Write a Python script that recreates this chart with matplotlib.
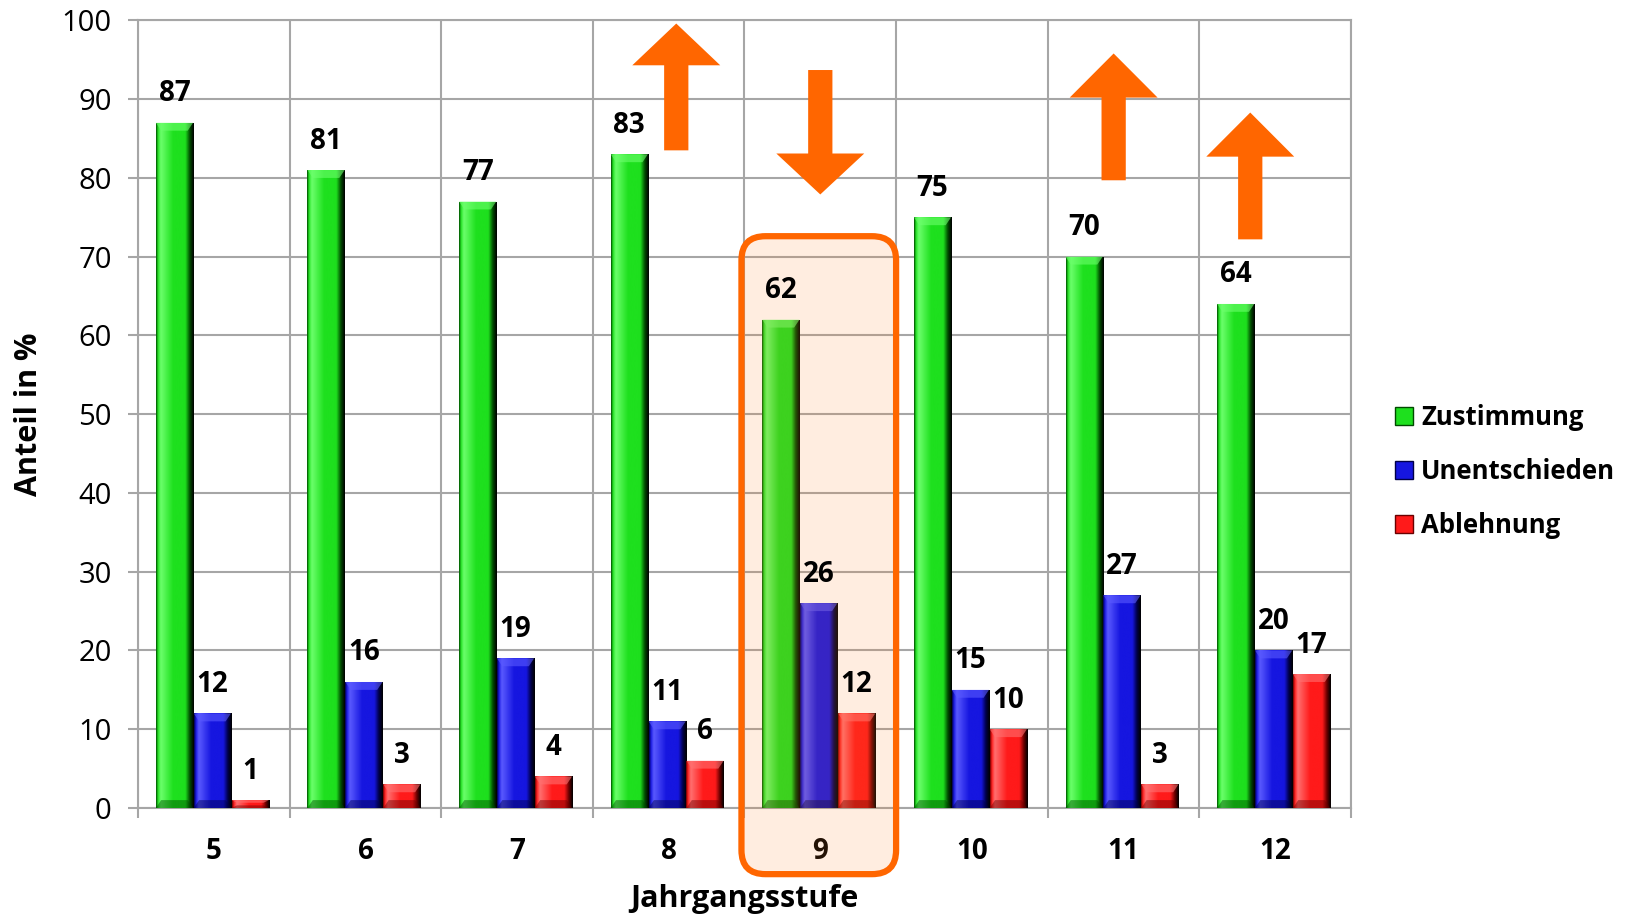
import numpy as np
import matplotlib
matplotlib.use("Agg")
import matplotlib.pyplot as plt
from matplotlib.patches import Polygon, FancyBboxPatch, Patch
from matplotlib.colors import LinearSegmentedColormap
from matplotlib.transforms import IdentityTransform

plt.rcParams['font.family'] = ['Open Sans', 'DejaVu Sans']

jahrgang = ['5', '6', '7', '8', '9', '10', '11', '12']
zustimmung = [87, 81, 77, 83, 62, 75, 70, 64]
unentschieden = [12, 16, 19, 11, 26, 15, 27, 20]
ablehnung = [1, 3, 4, 6, 12, 10, 3, 17]
serien = ['Zustimmung', 'Unentschieden', 'Ablehnung']

# base, light, dark shade for each series
farben = [('#1EE01E', '#6CFF6C', '#004A00'),
          ('#1616E0', '#5A5AFF', '#000048'),
          ('#FF1A1A', '#FF7070', '#6A0000')]

grau = '#A6A6A6'
orange = '#FF6600'

fig = plt.figure(figsize=(16.28, 9.19), dpi=100)
ax = fig.add_axes([0.0848, 0.1208, 0.745, 0.857])
ax.set_xlim(-0.5, 7.5)
ax.set_ylim(0, 100)

x = np.arange(len(jahrgang))
breite = 0.245


def bevel_bar(ax, rect, base, light, dark):
    # horizontal shading across the bar plus a lit top and shadowed bottom edge
    bx, bw, bh = rect.get_x(), rect.get_width(), rect.get_height()
    cmap = LinearSegmentedColormap.from_list(
        'b', [(0, dark), (0.04, base), (0.12, light), (0.45, base),
              (0.78, base), (0.9, dark), (1.0, '#000000')])
    grad = np.linspace(0, 1, 64).reshape(1, -1)
    im = ax.imshow(grad, cmap=cmap, aspect='auto', extent=(bx, bx + bw, 0, bh),
                   zorder=3, interpolation='bicubic')
    im.set_clip_path(rect)
    d = 0.035
    dh = min(1.0, bh / 3)
    top = [(bx, bh), (bx + bw, bh), (bx + bw - d, bh - dh), (bx + d, bh - dh)]
    ax.add_patch(Polygon(top, closed=True, facecolor=light, edgecolor='none',
                         alpha=0.6, zorder=4))
    bot = [(bx, 0), (bx + bw, 0), (bx + bw - d, dh), (bx + d, dh)]
    ax.add_patch(Polygon(bot, closed=True, facecolor=dark, edgecolor='none',
                         alpha=0.45, zorder=4))


for k, (werte, (base, light, dark)) in enumerate(zip([zustimmung, unentschieden, ablehnung], farben)):
    pos = x + (k - 1) * 0.25 - 0.01
    bars = ax.bar(pos, werte, breite, color=base, zorder=3, linewidth=0)
    for rect, v in zip(bars, werte):
        bevel_bar(ax, rect, base, light, dark)
        ax.annotate(str(v), (rect.get_x() + rect.get_width() / 2, v),
                    xytext=(0, 15.5), textcoords='offset points', ha='center',
                    va='baseline', fontsize=20, fontweight='bold', zorder=6)

# axes, grid and ticks
ax.set_xticks(np.arange(-0.5, 8, 1))
ax.set_xticklabels([])
ax.set_xticks(x, minor=True)
ax.set_xticklabels(jahrgang, minor=True, fontsize=20, fontweight='bold')
ax.tick_params(axis='x', which='major', length=7, width=1.5, color=grau)
ax.tick_params(axis='x', which='minor', length=0, pad=21)
ax.set_yticks(np.arange(0, 101, 10))
ax.tick_params(axis='y', length=7, width=1.5, color=grau, pad=12, labelsize=21)
ax.grid(True, which='major', color=grau, linewidth=1.5, zorder=0)
ax.set_axisbelow(True)
for sp in ax.spines.values():
    sp.set_color(grau)
    sp.set_linewidth(1.5)

fig.text(0.018, 0.549, 'Anteil in %', rotation=90, ha='center', va='center',
         fontsize=22, fontweight='bold')
fig.text(0.457, 0.022, 'Jahrgangsstufe', ha='center', va='center',
         fontsize=22, fontweight='bold')


def pfeil(ax, xc, y_ende, y_basis, y_spitze, schaft=0.08, kopf=0.29):
    pts = [(xc - schaft, y_ende), (xc - schaft, y_basis), (xc - kopf, y_basis),
           (xc, y_spitze), (xc + kopf, y_basis), (xc + schaft, y_basis),
           (xc + schaft, y_ende)]
    ax.add_patch(Polygon(pts, closed=True, facecolor=orange, edgecolor='none',
                         zorder=7, clip_on=False))


pfeil(ax, 3.05, 83.5, 94.3, 99.6)
pfeil(ax, 4.0, 93.7, 83.1, 77.9)
pfeil(ax, 5.935, 79.7, 90.2, 95.8)
pfeil(ax, 6.836, 72.2, 82.7, 88.3)

# highlighted year 9
(px0, py0) = ax.transData.transform((3.48, -8.4))
(px1, py1) = ax.transData.transform((4.5, 72.6))
box = FancyBboxPatch((px0, py0), px1 - px0, py1 - py0,
                     boxstyle='round,pad=0,rounding_size=24',
                     transform=IdentityTransform(), facecolor=(1.0, 0.5, 0.15, 0.14),
                     edgecolor=orange, linewidth=4.5, zorder=5, clip_on=False)
ax.add_patch(box)

handles = [Patch(facecolor=b, edgecolor=d, linewidth=1) for b, l, d in farben]
fig.legend(handles, serien, loc='center left', bbox_to_anchor=(0.857, 0.487),
           frameon=False, handlelength=0.7, handleheight=0.7, borderpad=0,
           borderaxespad=0, handletextpad=0.3, labelspacing=1.05,
           prop={'weight': 'bold', 'size': 18.5})

fig.savefig('out.png', dpi=100)
